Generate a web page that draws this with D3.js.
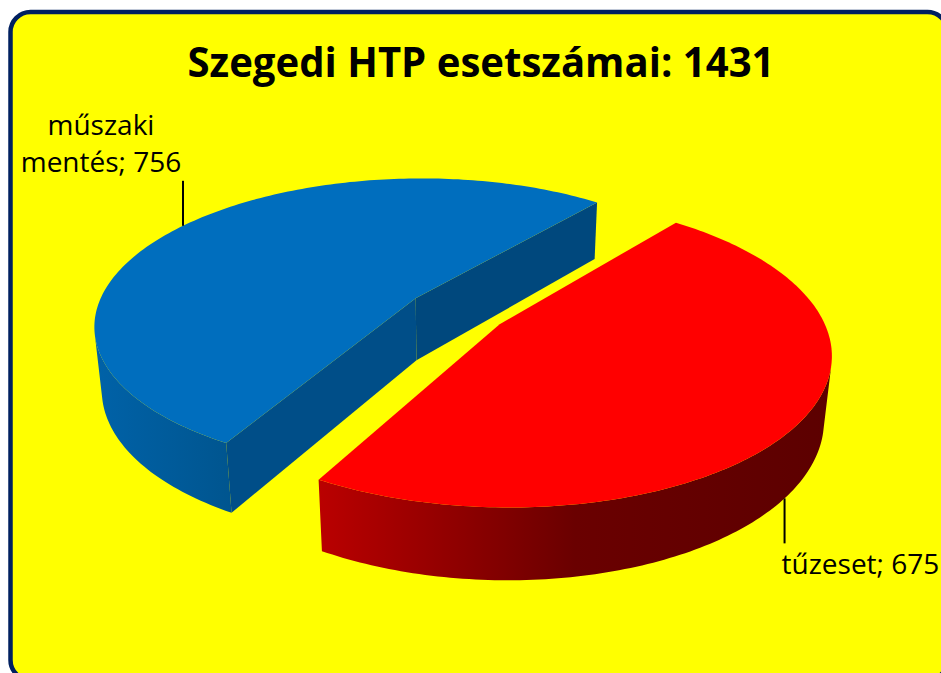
<!DOCTYPE html>
<meta charset="utf-8">
<style>
  html, body { margin: 0; padding: 0; background: #fff; }
  svg { display: block; }
  .title { font-family: "Open Sans", sans-serif; font-weight: bold; font-size: 41px; fill: #000; }
  .label { font-family: "Open Sans", sans-serif; font-size: 28px; fill: #000; }
  .leader { stroke: #000; stroke-width: 2; }
</style>
<body>
<svg id="chart" width="941" height="673"></svg>
<script src="https://cdn.jsdelivr.net/npm/d3@7"></script>
<script>
// chart data
var title = "Szegedi HTP esetszámai: 1431";
var categories = ["tűzeset", "műszaki mentés"];
var values = [675, 756];
var topColors = ["#ff0000", "#006ebe"];
var wallColors = [["#ba0000", "#6a0000", "#5c0000"], ["#0062a8", "#00558f"]];
var cutColors = [["#b00000", "#700000"], ["#004e88", "#00487d"]];

var W = 941, H = 673;
var svg = d3.select("#chart");
var defs = svg.append("defs");

// frame
svg.append("rect")
    .attr("x", 10.5).attr("y", 12)
    .attr("width", 937).attr("height", 668)
    .attr("rx", 20).attr("ry", 20)
    .attr("fill", "#ffff00")
    .attr("stroke", "#002060")
    .attr("stroke-width", 4.5);

svg.append("text")
    .attr("class", "title")
    .attr("x", 481).attr("y", 77)
    .attr("text-anchor", "middle")
    .attr("textLength", 587)
    .attr("lengthAdjust", "spacingAndGlyphs")
    .text(title);

// 3d projection of the pie (radius 1, top face at y = 0)
var CX = 457, CY = 311, F = 1600, D = 5.0;
var tilt = 27 * Math.PI / 180;
var sinP = Math.sin(tilt), cosP = Math.cos(tilt);
var depth = 0.225, explode = 0.159;
var rot = -50.5 * Math.PI / 180;

function project(x, y, z) {
  var yc = z * sinP - y * cosP;
  var zc = z * cosP + y * sinP;
  var k = F / (D - zc);
  return [CX + x * k, CY + yc * k];
}

var pie = d3.pie().sort(null).value(function(d) { return d; });
var arcs = pie(values).map(function(d, i) {
  var t0 = d.startAngle + rot, t1 = d.endAngle + rot;
  var mid = (t0 + t1) / 2;
  return {i: i, t0: t0, t1: t1, mid: mid,
          ox: explode * Math.cos(mid), oz: explode * Math.sin(mid), value: d.value};
});

function pt(a, ang, r, y) {
  return project(a.ox + r * Math.cos(ang), y, a.oz + r * Math.sin(ang));
}

function area(p) {
  var s = 0;
  for (var i = 0; i < p.length; i++) {
    var q = p[(i + 1) % p.length];
    s += p[i][0] * q[1] - q[0] * p[i][1];
  }
  return s / 2;
}

var line = d3.line();
var N = 180;

// paint back slice first
var order = arcs.slice().sort(function(a, b) { return a.oz - b.oz; });

order.forEach(function(a) {
  var g = svg.append("g");
  var steps = d3.range(N + 1).map(function(k) { return a.t0 + (a.t1 - a.t0) * k / N; });

  // outer wall: only the part that faces the viewer
  var vis = [];
  for (var k = 0; k < N; k++) {
    var quad = [pt(a, steps[k], 1, 0), pt(a, steps[k + 1], 1, 0),
                pt(a, steps[k + 1], 1, -depth), pt(a, steps[k], 1, -depth)];
    if (area(quad) < 0) vis.push(k);
  }
  if (vis.length) {
    var k0 = vis[0], k1 = vis[vis.length - 1] + 1;
    var topPts = steps.slice(k0, k1 + 1).map(function(t) { return pt(a, t, 1, 0); });
    var botPts = steps.slice(k0, k1 + 1).map(function(t) { return pt(a, t, 1, -depth); }).reverse();
    var all = topPts.concat(botPts);
    var gid = "wall" + a.i;
    var cols = wallColors[a.i];
    var grad = defs.append("linearGradient")
        .attr("id", gid)
        .attr("gradientUnits", "userSpaceOnUse")
        .attr("x1", d3.min(all, function(p) { return p[0]; })).attr("y1", 0)
        .attr("x2", d3.max(all, function(p) { return p[0]; })).attr("y2", 0);
    cols.forEach(function(c, j) {
      grad.append("stop").attr("offset", j / (cols.length - 1)).attr("stop-color", c);
    });
    g.append("path")
        .attr("d", line(all) + "Z")
        .attr("fill", "url(#" + gid + ")");
  }

  // cut faces
  var apexT = project(a.ox, 0, a.oz), apexB = project(a.ox, -depth, a.oz);
  [[a.t0, -1, 0], [a.t1, 1, 1]].forEach(function(e) {
    var face = [apexT, pt(a, e[0], 1, 0), pt(a, e[0], 1, -depth), apexB];
    if (area(face) * e[1] > 0) {
      g.append("path")
          .attr("d", line(face) + "Z")
          .attr("fill", cutColors[a.i][e[2]]);
    }
  });

  // top face
  var top = [apexT].concat(steps.map(function(t) { return pt(a, t, 1, 0); }));
  g.append("path")
      .attr("d", line(top) + "Z")
      .attr("fill", topColors[a.i]);
});

// data labels with leader lines
arcs.forEach(function(a) {
  var txt = categories[a.i] + "; " + values[a.i];
  var front = Math.sin(a.mid) > 0;
  if (front) {
    var p = pt(a, a.mid + 4 * Math.PI / 180, 1, -depth);
    svg.append("line").attr("class", "leader")
        .attr("x1", p[0]).attr("y1", p[1])
        .attr("x2", p[0]).attr("y2", p[1] + 45);
    svg.append("text").attr("class", "label")
        .attr("x", p[0] - 3).attr("y", p[1] + 76)
        .text(txt);
  } else {
    var q = pt(a, a.mid, 1, 0);
    svg.append("line").attr("class", "leader")
        .attr("x1", q[0]).attr("y1", q[1])
        .attr("x2", q[0]).attr("y2", q[1] - 45);
    var words = txt.split(" ");
    var lines = [words[0], words.slice(1).join(" ")];
    var t = svg.append("text").attr("class", "label")
        .attr("text-anchor", "middle");
    lines.forEach(function(s, j) {
      t.append("tspan")
          .attr("x", q[0] - 82)
          .attr("y", q[1] - 54 - (lines.length - 1 - j) * 37)
          .text(s);
    });
  }
});
</script>
</body>
